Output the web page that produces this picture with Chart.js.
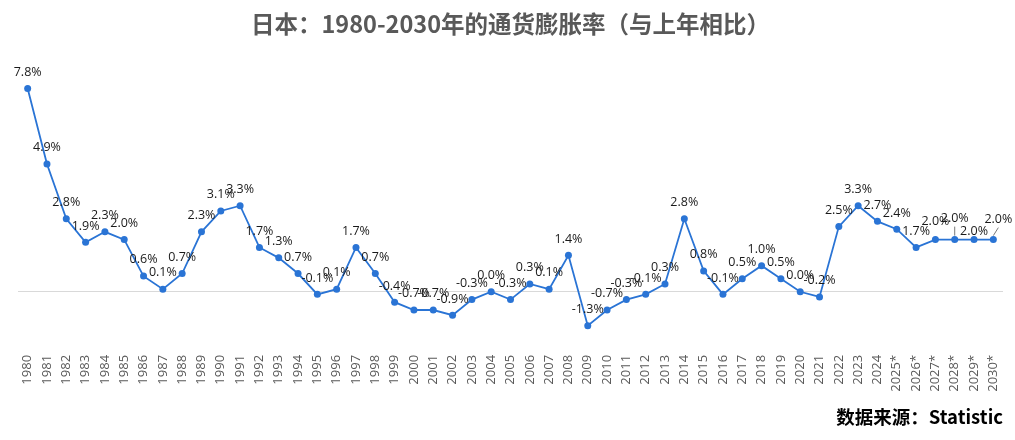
<!DOCTYPE html>
<html>
<head>
<meta charset="utf-8">
<script src="https://cdn.jsdelivr.net/npm/chart.js@4"></script>
<style>
  html, body { margin: 0; padding: 0; background: #fff; }
  #wrap { width: 1015px; height: 440px; }
</style>
</head>
<body>
<div id="wrap"><canvas id="inflation-chart"></canvas></div>
<script>
// Japan CPI inflation, year on year (%)
const years = [
    '1980', '1981', '1982', '1983', '1984', '1985', '1986', '1987', '1988', '1989',
    '1990', '1991', '1992', '1993', '1994', '1995', '1996', '1997', '1998', '1999',
    '2000', '2001', '2002', '2003', '2004', '2005', '2006', '2007', '2008', '2009',
    '2010', '2011', '2012', '2013', '2014', '2015', '2016', '2017', '2018', '2019',
    '2020', '2021', '2022', '2023', '2024', '2025*', '2026*', '2027*', '2028*', '2029*', '2030*'
];
const inflation = [
    7.8, 4.9, 2.8, 1.9, 2.3, 2.0, 0.6, 0.1, 0.7, 2.3,
    3.1, 3.3, 1.7, 1.3, 0.7, -0.1, 0.1, 1.7, 0.7, -0.4,
    -0.7, -0.7, -0.9, -0.3, 0.0, -0.3, 0.3, 0.1, 1.4, -1.3,
    -0.7, -0.3, -0.1, 0.3, 2.8, 0.8, -0.1, 0.5, 1.0, 0.5,
    0.0, -0.2, 2.5, 3.3, 2.7, 2.4, 1.7, 2.0, 2.0, 2.0, 2.0
];

const lineColor = '#2a74d5';
const fontFamily = '"Open Sans", "Noto Sans CJK SC", sans-serif';

// Draws value labels above each point (no datalabels plugin available offline)
const valueLabels = {
    id: 'valueLabels',
    afterDatasetsDraw(chart, args, opts) {
        const ctx = chart.ctx;
        const meta = chart.getDatasetMeta(0);
        const nudge = opts.nudge || {};
        ctx.save();
        ctx.font = '12.5px ' + fontFamily;
        ctx.fillStyle = '#1a1a1a';
        ctx.textAlign = 'center';
        ctx.textBaseline = 'bottom';
        meta.data.forEach((pt, i) => {
            const n = nudge[i] || {};
            const x = pt.x + (n.dx || 0);
            const y = pt.y - 10 + (n.dy || 0);
            ctx.fillText(inflation[i].toFixed(1) + '%', x, y);
            if (n.leader) {
                ctx.strokeStyle = '#555';
                ctx.lineWidth = 0.8;
                ctx.beginPath();
                ctx.moveTo(x, y + 2);
                ctx.lineTo(pt.x, pt.y - 4);
                ctx.stroke();
            }
        });
        ctx.restore();
    }
};

new Chart(document.getElementById('inflation-chart'), {
    type: 'line',
    data: {
        labels: years,
        datasets: [{
            data: inflation,
            borderColor: lineColor,
            backgroundColor: lineColor,
            borderWidth: 1.8,
            pointRadius: 3.5,
            pointBackgroundColor: lineColor,
            pointBorderWidth: 0,
            tension: 0
        }]
    },
    options: {
        responsive: true,
        maintainAspectRatio: false,
        animation: false,
        layout: {
            padding: { left: 18, right: 12, top: 0, bottom: 0 }
        },
        scales: {
            x: {
                offset: true,
                grid: { display: false },
                border: { display: false },
                ticks: {
                    color: '#595959',
                    font: { family: fontFamily, size: 13 },
                    minRotation: 90,
                    maxRotation: 90,
                    autoSkip: false,
                    padding: 3
                }
            },
            y: {
                min: -2,
                max: 8,
                ticks: { display: false, stepSize: 1 },
                border: { display: false },
                grid: {
                    drawTicks: false,
                    color: c => c.tick.value === 0 ? '#d9d9d9' : 'rgba(0,0,0,0)'
                }
            }
        },
        plugins: {
            legend: { display: false },
            tooltip: { enabled: false },
            title: {
                display: true,
                text: '日本：1980-2030年的通货膨胀率（与上年相比）',
                color: '#595959',
                font: { family: '"Noto Sans CJK SC", sans-serif', size: 23.5, weight: 'bold', lineHeight: 1.2 },
                padding: { top: 10, bottom: 45 }
            },
            subtitle: {
                display: true,
                position: 'bottom',
                align: 'end',
                text: '数据来源：Statistic',
                color: '#000',
                font: { family: '"Noto Sans CJK SC", sans-serif', size: 18.5, weight: 'bold', lineHeight: 1.2 },
                padding: { top: 11, bottom: 12 }
            },
            valueLabels: {
                nudge: {
                    47: { dy: -2 },
                    48: { dy: -5, leader: true },
                    49: { dy: 8 },
                    50: { dx: 5, dy: -4, leader: true }
                }
            }
        }
    },
    plugins: [valueLabels]
});
</script>
</body>
</html>
